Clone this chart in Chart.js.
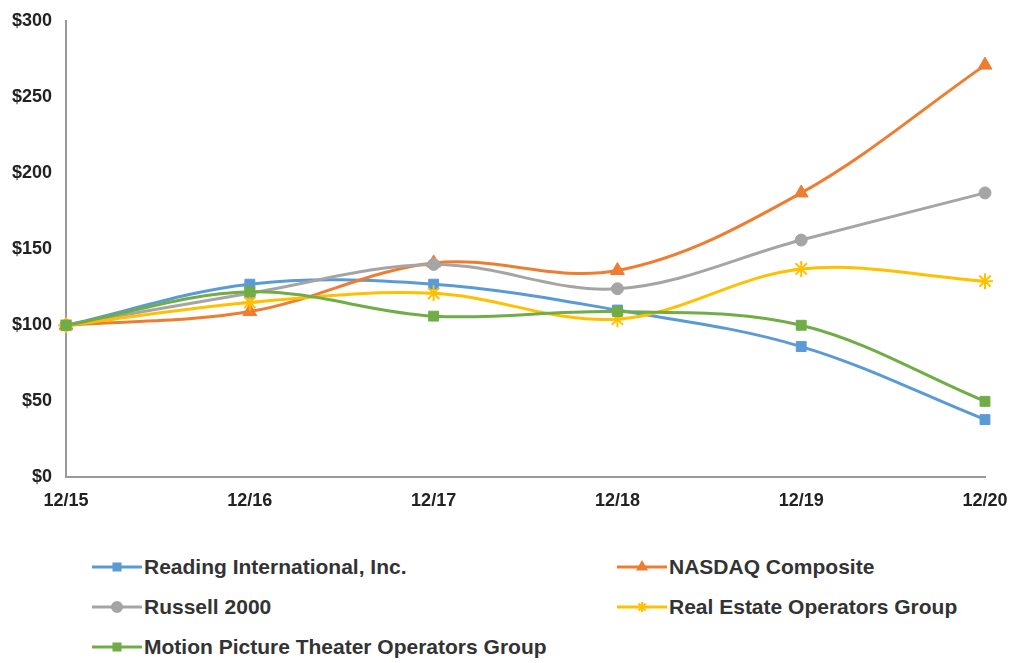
<!DOCTYPE html>
<html>
<head>
<meta charset="utf-8">
<script src="https://cdn.jsdelivr.net/npm/chart.js@4.4.1/dist/chart.umd.min.js"></script>
<style>
  body { margin: 0; background: #fff; font-family: "Liberation Sans", Arial, sans-serif; }
  #wrap { position: relative; width: 1011px; height: 524px; }
  #legend { position: absolute; left: 92px; top: 555px; width: 900px; }
  .item { position: absolute; display: flex; align-items: center; font-size: 21px; font-weight: bold; color: #333; white-space: nowrap; }
  .item canvas { margin-right: 2px; }
</style>
</head>
<body>
<div id="wrap"><canvas id="myChart"></canvas></div>
<div id="legend"></div>
<script>
var labels = ["12/15", "12/16", "12/17", "12/18", "12/19", "12/20"];
var reading = [100, 127, 127, 110, 86, 38];
var nasdaq = [100, 109, 141, 136, 187, 271];
var russell = [100, 121, 140, 124, 156, 187];
var realEstate = [100, 115, 121, 104, 137, 129];
var motionPicture = [100, 122, 106, 109, 100, 50];
var yTicks = [0, 50, 100, 150, 200, 250, 300];

var series = [
  { label: "Reading International, Inc.", data: reading, color: "#5B9BD5", style: "rect", r: 7 },
  { label: "NASDAQ Composite", data: nasdaq, color: "#ED7D31", style: "triangle", r: 8 },
  { label: "Russell 2000", data: russell, color: "#A5A5A5", style: "circle", r: 6 },
  { label: "Real Estate Operators Group", data: realEstate, color: "#FFC000", style: "star", r: 8 },
  { label: "Motion Picture Theater Operators Group", data: motionPicture, color: "#70AD47", style: "rect", r: 7 }
];

var ctx = document.getElementById("myChart").getContext("2d");
var chart = new Chart(ctx, {
  type: "line",
  data: {
    labels: labels,
    datasets: series.map(function (s) {
      return {
        label: s.label,
        data: s.data,
        borderColor: s.color,
        backgroundColor: s.color,
        borderWidth: 3,
        pointStyle: s.style,
        pointRadius: s.r,
        pointBorderWidth: s.style === "star" ? 2 : 1,
        pointHoverRadius: s.r,
        tension: 0.35,
        fill: false
      };
    }).reverse()
  },
  options: {
    responsive: true,
    maintainAspectRatio: false,
    animation: false,
    layout: { padding: { left: 4, right: 0, top: 21, bottom: 4 } },
    plugins: { legend: { display: false }, tooltip: { enabled: false } },
    scales: {
      x: {
        offset: false,
        afterFit: function (axis) { axis.paddingRight = 26; },
        grid: { display: false, drawTicks: true, tickLength: 5, color: "#999" },
        border: { color: "#999", width: 2 },
        ticks: { color: "#222", font: { family: "Liberation Sans", size: 18, weight: "bold" }, padding: 8, maxRotation: 0 }
      },
      y: {
        min: 0, max: 300,
        afterBuildTicks: function (axis) { axis.ticks = yTicks.map(function (v) { return { value: v }; }); },
        grid: { display: false, drawTicks: true, tickLength: 6, color: "#999" },
        border: { color: "#999", width: 2 },
        ticks: {
          color: "#222", font: { family: "Liberation Sans", size: 18, weight: "bold" }, padding: 8,
          callback: function (v) { return "$" + v; }
        }
      }
    }
  }
});

// legend in two columns like the original
var legend = document.getElementById("legend");
var pos = [[0, 0], [525, 0], [0, 40], [525, 40], [0, 80]];
series.forEach(function (s, i) {
  var item = document.createElement("div");
  item.className = "item";
  item.style.left = pos[i][0] + "px";
  item.style.top = pos[i][1] + "px";
  var c = document.createElement("canvas");
  c.width = 50; c.height = 20;
  var g = c.getContext("2d");
  g.strokeStyle = s.color; g.lineWidth = 3;
  g.beginPath(); g.moveTo(0, 10); g.lineTo(50, 10); g.stroke();
  g.fillStyle = s.color; g.strokeStyle = s.color; g.lineWidth = 2;
  Chart.helpers.drawPoint(g, { pointStyle: s.style, radius: 5, rotation: 0, borderWidth: 2 }, 25, 10);
  item.appendChild(c);
  var t = document.createElement("span");
  t.textContent = s.label;
  item.appendChild(t);
  legend.appendChild(item);
});
</script>
</body>
</html>
